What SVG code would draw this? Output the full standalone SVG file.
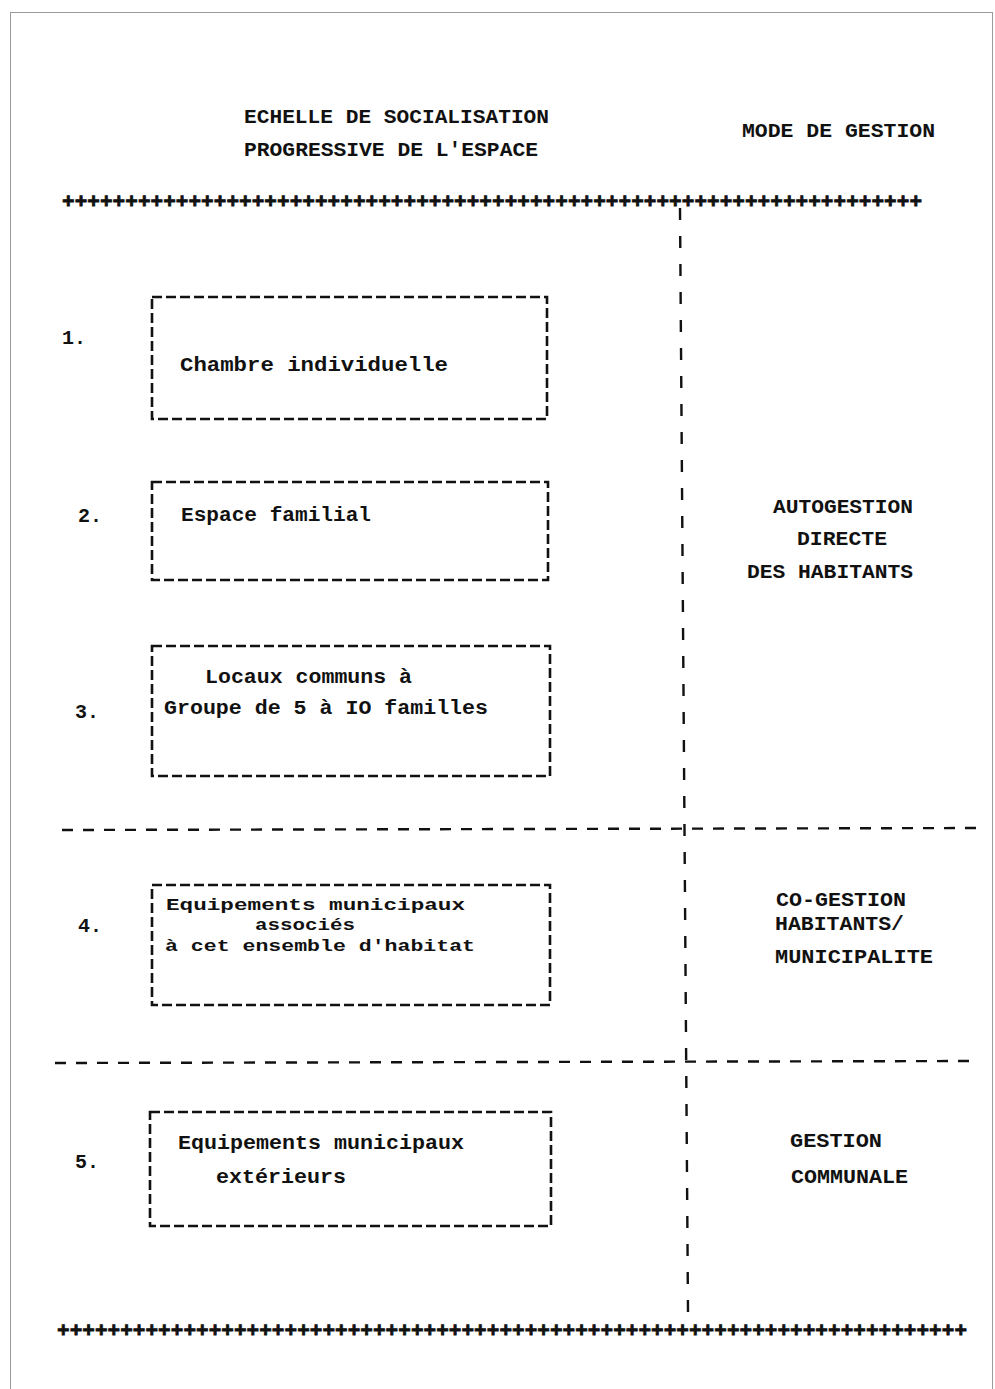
<svg xmlns="http://www.w3.org/2000/svg" width="995" height="1389" viewBox="0 0 995 1389">
<style>
.t{font-family:"Liberation Mono","Courier New",monospace;font-weight:bold;font-size:20px;fill:#111}
.s{font-size:17px}
.p{font-family:"Liberation Mono","Courier New",monospace;font-weight:bold;font-size:21px;fill:#111;stroke:#111;stroke-width:0.8}
.box{fill:none;stroke:#111;stroke-width:2.6;stroke-dasharray:10 4}
.sep{fill:none;stroke:#111;stroke-width:2.4;stroke-dasharray:11 10}
.vsep{fill:none;stroke:#111;stroke-width:2.4;stroke-dasharray:12 16}
</style>
<rect x="0" y="0" width="995" height="1389" fill="#fff"/>
<rect x="10.5" y="12.5" width="982" height="1400" fill="none" stroke="#9a9a9a" stroke-width="1"/>
<g id="headers">
<text class="t" x="244" y="123" textLength="305" lengthAdjust="spacingAndGlyphs">ECHELLE DE SOCIALISATION</text>
<text class="t" x="244" y="156" textLength="294" lengthAdjust="spacingAndGlyphs">PROGRESSIVE DE L'ESPACE</text>
<text class="t" x="742" y="137" textLength="193" lengthAdjust="spacingAndGlyphs">MODE DE GESTION</text>
</g>
<g id="connectors">
<text class="p" x="62" y="208" textLength="860">++++++++++++++++++++++++++++++++++++++++++++++++++++++++++++++++++++</text>
<text class="p" x="57" y="1337" textLength="910">++++++++++++++++++++++++++++++++++++++++++++++++++++++++++++++++++++++++</text>
<line class="vsep" x1="680" y1="208" x2="688" y2="1312"/>
<line class="sep" x1="62" y1="830" x2="982" y2="828"/>
<line class="sep" x1="55" y1="1063" x2="976" y2="1061"/>
</g>
<g id="node1">
<rect class="box" x="152" y="297" width="395" height="122"/>
<text class="t" x="62" y="344">1.</text>
<text class="t" x="180" y="371" textLength="268" lengthAdjust="spacingAndGlyphs">Chambre  individuelle</text>
</g>
<g id="node2">
<rect class="box" x="152" y="482" width="396" height="98"/>
<text class="t" x="78" y="522">2.</text>
<text class="t" x="181" y="521" textLength="190" lengthAdjust="spacingAndGlyphs">Espace familial</text>
</g>
<g id="node3">
<rect class="box" x="152" y="646" width="398" height="130"/>
<text class="t" x="75" y="718">3.</text>
<text class="t" x="205" y="683" textLength="207" lengthAdjust="spacingAndGlyphs">Locaux communs à</text>
<text class="t" x="164" y="714" textLength="324" lengthAdjust="spacingAndGlyphs">Groupe de 5 à IO familles</text>
</g>
<g id="node4">
<rect class="box" x="152" y="885" width="398" height="120"/>
<text class="t" x="78" y="932">4.</text>
<text class="t s" x="166" y="910" textLength="299" lengthAdjust="spacingAndGlyphs">Equipements  municipaux</text>
<text class="t s" x="255" y="930" textLength="100" lengthAdjust="spacingAndGlyphs">associés</text>
<text class="t s" x="165" y="951" textLength="310" lengthAdjust="spacingAndGlyphs">à cet ensemble d'habitat</text>
</g>
<g id="node5">
<rect class="box" x="150" y="1112" width="401" height="114"/>
<text class="t" x="75" y="1168">5.</text>
<text class="t" x="178" y="1149" textLength="286" lengthAdjust="spacingAndGlyphs">Equipements municipaux</text>
<text class="t" x="216" y="1183" textLength="130" lengthAdjust="spacingAndGlyphs">extérieurs</text>
</g>
<g id="gestion1">
<text class="t" x="773" y="513" textLength="140" lengthAdjust="spacingAndGlyphs">AUTOGESTION</text>
<text class="t" x="797" y="545" textLength="90" lengthAdjust="spacingAndGlyphs">DIRECTE</text>
<text class="t" x="747" y="578" textLength="166" lengthAdjust="spacingAndGlyphs">DES HABITANTS</text>
</g>
<g id="gestion2">
<text class="t" x="776" y="906" textLength="130" lengthAdjust="spacingAndGlyphs">CO-GESTION</text>
<text class="t" x="775" y="930" textLength="129" lengthAdjust="spacingAndGlyphs">HABITANTS/</text>
<text class="t" x="775" y="963" textLength="158" lengthAdjust="spacingAndGlyphs">MUNICIPALITE</text>
</g>
<g id="gestion3">
<text class="t" x="790" y="1147" textLength="92" lengthAdjust="spacingAndGlyphs">GESTION</text>
<text class="t" x="791" y="1183" textLength="117" lengthAdjust="spacingAndGlyphs">COMMUNALE</text>
</g>
</svg>
